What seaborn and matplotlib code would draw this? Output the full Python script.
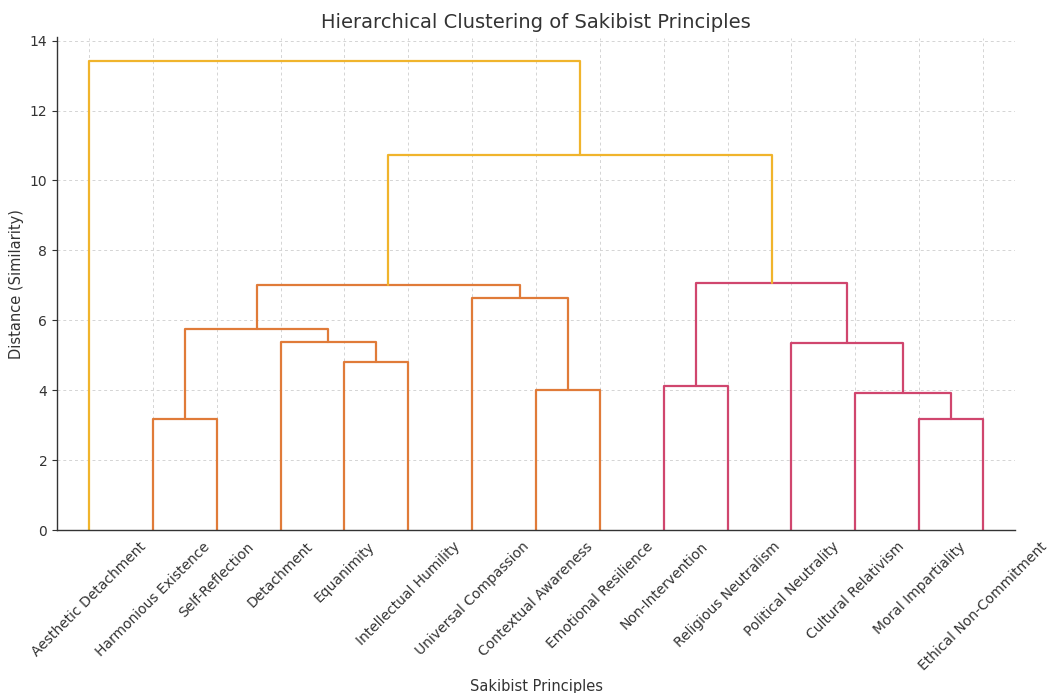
import matplotlib
matplotlib.use("Agg")
import matplotlib.pyplot as plt
import seaborn as sns

# ---------------- data ----------------
principles = [
    "Aesthetic Detachment", "Harmonious Existence", "Self-Reflection", "Detachment",
    "Equanimity", "Intellectual Humility", "Universal Compassion", "Contextual Awareness",
    "Emotional Resilience", "Non-Intervention", "Religious Neutralism", "Political Neutrality",
    "Cultural Relativism", "Moral Impartiality", "Ethical Non-Commitment",
]
# linkage (ids 0..14 are leaves, 15+ are merged clusters in order)
merge_left = [1, 13, 12, 7, 9, 4, 11, 3, 15, 6, 23, 19, 25, 0]
merge_right = [2, 14, 16, 8, 10, 5, 17, 20, 22, 18, 24, 21, 26, 27]
merge_height = [3.17, 3.17, 3.92, 4.0, 4.13, 4.8, 5.35, 5.38, 5.75, 6.63, 7.02, 7.07, 10.72, 13.42]

cluster_colors = ["#E07B39", "#D0466E"]
above_color = "#F0B42C"

# ---------------- style ----------------
sns.set_style("whitegrid", {"grid.linestyle": (0, (3, 3)), "grid.color": "#d4d4d4"})
plt.rcParams["font.family"] = ["DejaVu Sans"]
plt.rcParams["grid.linewidth"] = 0.7

fig = plt.figure(figsize=(10.51, 6.93), dpi=100)
ax = fig.add_axes([57 / 1051, 1 - 530 / 693, (1015 - 57) / 1051, (530 - 37.5) / 693])

n = len(principles)
root = n + len(merge_height) - 1
children = {n + k: (merge_left[k], merge_right[k]) for k in range(len(merge_height))}
height = {n + k: merge_height[k] for k in range(len(merge_height))}
thr = 0.7 * max(merge_height)

# leaf order by traversal
order = []
def walk(c):
    if c < n:
        order.append(c)
        return
    a, b = children[c]
    walk(a); walk(b)
walk(root)

xpos = {leaf: 5 + 10 * i for i, leaf in enumerate(order)}
ypos = {leaf: 0.0 for leaf in order}

# link colours
pal = iter(cluster_colors)
link_color = {}
def paint(c, col=None):
    if c < n:
        return
    if col is None and height[c] < thr:
        col = next(pal)
    link_color[c] = col if col else above_color
    a, b = children[c]
    paint(a, col); paint(b, col)
paint(root)

for k in range(len(merge_height)):
    c = n + k
    a, b = children[c]
    h = height[c]
    xs = [xpos[a], xpos[a], xpos[b], xpos[b]]
    ys = [ypos[a], h, h, ypos[b]]
    sns.lineplot(x=xs, y=ys, sort=False, estimator=None, color=link_color[c],
                 linewidth=1.6, ax=ax)
    xpos[c] = (xpos[a] + xpos[b]) / 2
    ypos[c] = h

ax.set_xlim(0, 10 * n)
ax.set_ylim(0, max(merge_height) * 1.05)
ax.set_xticks([5 + 10 * i for i in range(n)])
ax.set_xticklabels([principles[i] for i in order], rotation=45, ha="center",
                   fontsize=10, color="#333333")
ax.set_yticks(range(0, 15, 2))
ax.tick_params(axis="y", labelsize=10, colors="#333333", left=True, length=3.5, width=0.8)
for t in ax.get_xticklines():
    t.set_visible(False)

sns.despine(ax=ax)
for s in ["left", "bottom"]:
    ax.spines[s].set_color("#333333")
    ax.spines[s].set_linewidth(1.0)

ax.set_title("Hierarchical Clustering of Sakibist Principles", fontsize=14, color="#333333", pad=7)
ax.set_xlabel("Sakibist Principles", fontsize=10.5, color="#333333")
ax.set_ylabel("Distance (Similarity)", fontsize=10.5, color="#333333")

fig.savefig("out.png", dpi=100)
